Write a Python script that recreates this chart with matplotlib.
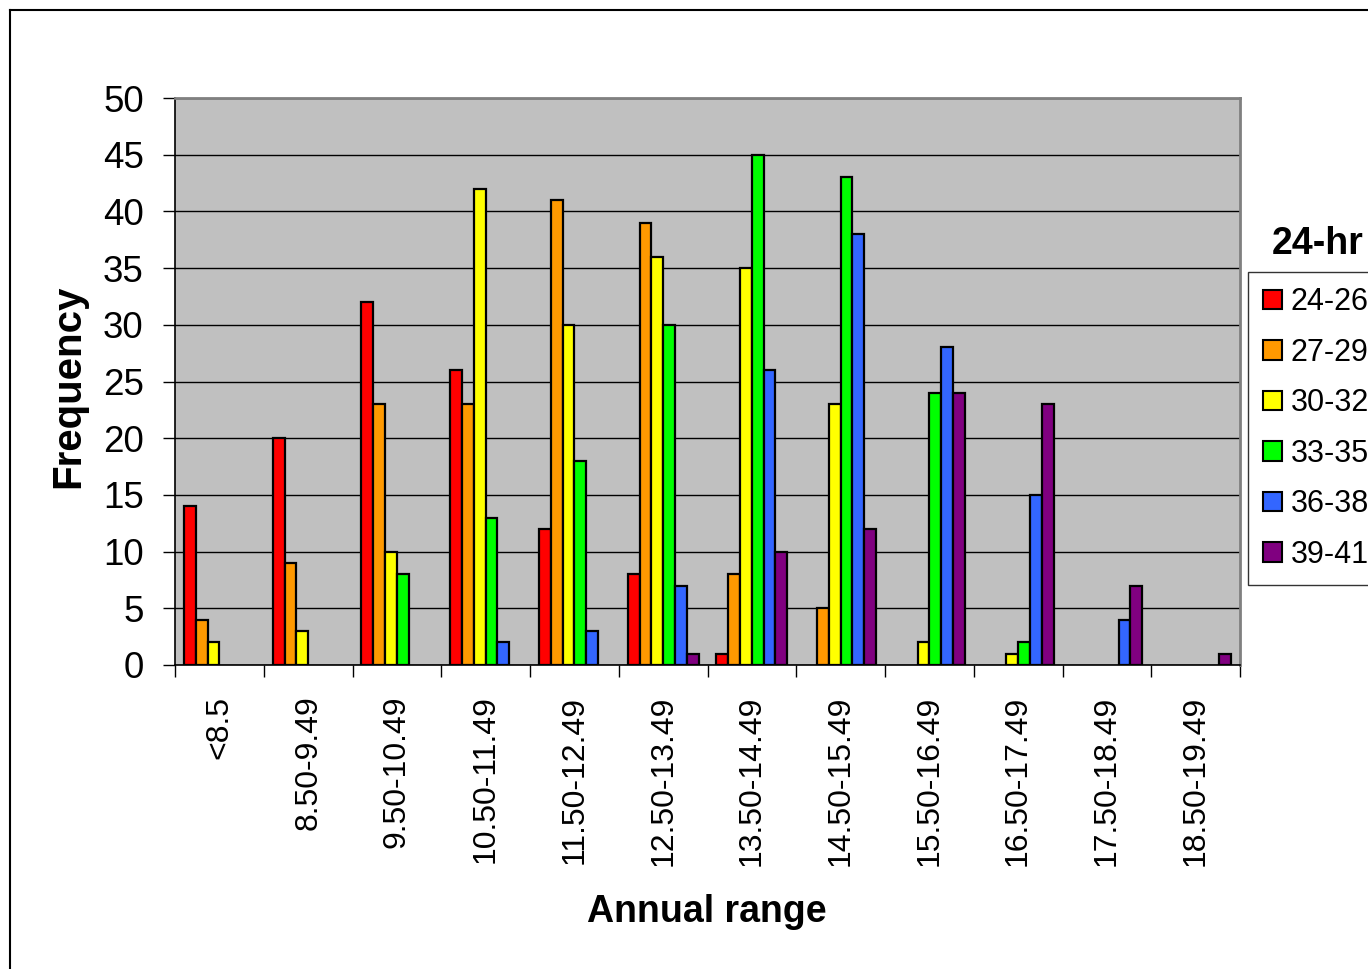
import matplotlib.pyplot as plt
from matplotlib.lines import Line2D
from matplotlib.patches import Patch
import numpy as np

plt.rcParams['font.family'] = ['Liberation Sans', 'DejaVu Sans']

# ---------- data ----------
categories = ["<8.5", "8.50-9.49", "9.50-10.49", "10.50-11.49", "11.50-12.49",
              "12.50-13.49", "13.50-14.49", "14.50-15.49", "15.50-16.49",
              "16.50-17.49", "17.50-18.49", "18.50-19.49"]
series_names = ["24-26", "27-29", "30-32", "33-35", "36-38", "39-41"]
r24_26 = [14, 20, 32, 26, 12, 8, 1, 0, 0, 0, 0, 0]
r27_29 = [4, 9, 23, 23, 41, 39, 8, 5, 0, 0, 0, 0]
r30_32 = [2, 3, 10, 42, 30, 36, 35, 23, 2, 1, 0, 0]
r33_35 = [0, 0, 8, 13, 18, 30, 45, 43, 24, 2, 0, 0]
r36_38 = [0, 0, 0, 2, 3, 7, 26, 38, 28, 15, 4, 0]
r39_41 = [0, 0, 0, 0, 0, 1, 10, 12, 24, 23, 7, 1]
series = [r24_26, r27_29, r30_32, r33_35, r36_38, r39_41]
colors = ["#FF0000", "#FF9900", "#FFFF00", "#00FF00", "#3366FF", "#800080"]

W, H = 1368, 969
fig = plt.figure(figsize=(W / 100, H / 100), dpi=100)
ax = fig.add_axes([175 / W, 1 - 665 / H, (1240 - 175) / W, (665 - 98) / H])
ax.set_facecolor("#C0C0C0")

x = np.arange(len(categories))
bw = 0.133
for i, (vals, c) in enumerate(zip(series, colors)):
    v = np.array(vals, dtype=float)
    ax.bar(x + (i - 2.5) * bw, np.where(v > 0, v, np.nan), width=bw, color=c,
           edgecolor="black", linewidth=1.6, zorder=3)

ax.set_xlim(-0.5, len(categories) - 0.5)
ax.set_ylim(0, 50)
ax.set_yticks(range(0, 51, 5))
ax.yaxis.grid(True, color="black", linewidth=1.0, zorder=1)
ax.set_axisbelow(True)

ax.set_xticks(x)
ax.set_xticklabels(categories, rotation=90, fontsize=23, va="top", ha="center")
ax.set_xticks(np.arange(-0.5, len(categories)), minor=True)
ax.tick_params(axis="x", which="major", length=0, pad=22)
ax.tick_params(axis="x", which="minor", length=8.5, width=1.0, direction="out")
ax.tick_params(axis="y", labelsize=26.5, length=8.5, width=1.0, pad=14)

for s in ["left", "bottom"]:
    ax.spines[s].set_color("black")
    ax.spines[s].set_linewidth(1.2)
for s in ["top", "right"]:
    ax.spines[s].set_color("#808080")
    ax.spines[s].set_linewidth(2)

fig.text(68 / W, 1 - 386 / H, "Frequency", rotation=90, fontsize=29,
         fontweight="bold", ha="center", va="center")
fig.text(707 / W, 1 - 912 / H, "Annual range", fontsize=27,
         fontweight="bold", ha="center", va="center")

# legend with its heading placed above the box
handles = [Patch(facecolor=c, edgecolor="black", linewidth=1.5) for c in colors]
leg = fig.legend(handles, series_names, loc="upper left",
                 bbox_to_anchor=(1248 / W, 1 - 272 / H), fontsize=22,
                 frameon=True, fancybox=False, edgecolor="black",
                 handlelength=0.6, handleheight=0.6, handletextpad=0.3,
                 labelspacing=0.67, borderpad=0.5, borderaxespad=0)
leg.get_frame().set_linewidth(1.0)
fig.text(1318 / W, 1 - 244 / H, "24-hr", fontsize=27, fontweight="bold",
         ha="center", va="center")

# outer chart border
fig.add_artist(Line2D([9.5 / W, 9.5 / W], [0, 1 - 10 / H], color="black",
                      linewidth=1.5, transform=fig.transFigure))
fig.add_artist(Line2D([9.5 / W, 1], [1 - 10 / H, 1 - 10 / H], color="black",
                      linewidth=1.5, transform=fig.transFigure))

fig.savefig("out.png", dpi=100)
